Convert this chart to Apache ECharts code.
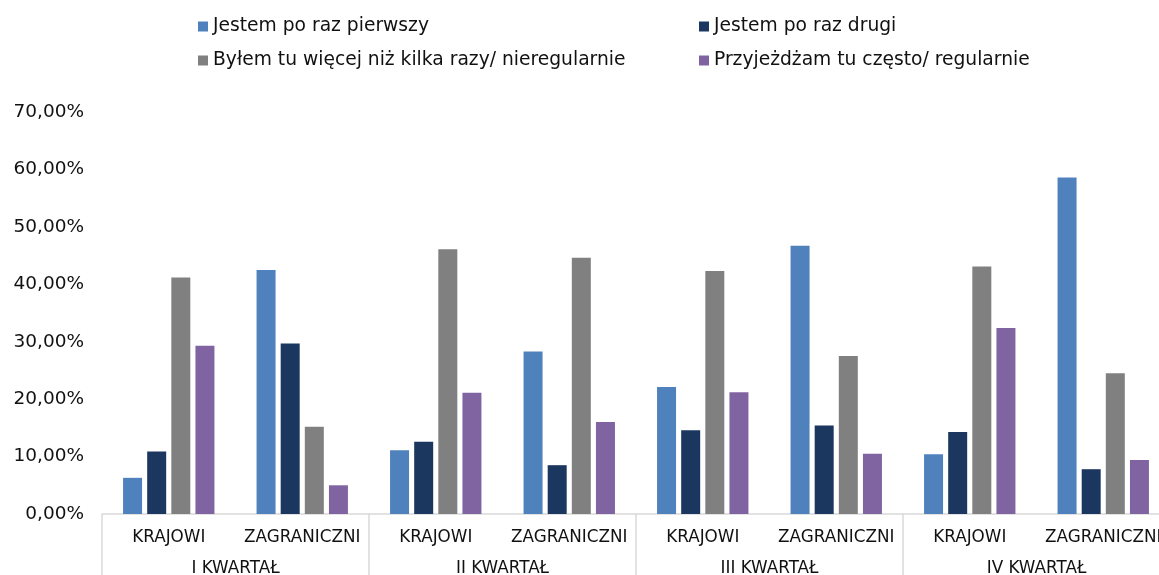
<!DOCTYPE html>
<html>
<head>
<meta charset="utf-8">
<script src="https://cdn.jsdelivr.net/npm/echarts@6/dist/echarts.min.js"></script>
<style>
  html, body { margin: 0; padding: 0; background: #ffffff; }
  #chart { width: 1159px; height: 575px; }
</style>
</head>
<body>
<div id="chart"></div>
<script>
// Visitor types per quarter, domestic vs. foreign (shares in %)
const groups = ['KRAJOWI', 'ZAGRANICZNI', 'KRAJOWI', 'ZAGRANICZNI', 'KRAJOWI', 'ZAGRANICZNI', 'KRAJOWI', 'ZAGRANICZNI'];
const quarters = ['I KWARTAŁ', 'II KWARTAŁ', 'III KWARTAŁ', 'IV KWARTAŁ'];
const seriesNames = [
  'Jestem po raz pierwszy',
  'Jestem po raz drugi',
  'Byłem tu więcej niż kilka razy/ nieregularnie',
  'Przyjeżdżam tu często/ regularnie'
];
const firstTime  = [6.3, 42.5, 11.1, 28.3, 22.1, 46.7, 10.4, 58.6];
const secondTime = [10.9, 29.7, 12.6, 8.5, 14.6, 15.4, 14.3, 7.8];
const severalTimes = [41.2, 15.2, 46.1, 44.6, 42.3, 27.5, 43.1, 24.5];
const regularly  = [29.3, 5.0, 21.1, 16.0, 21.2, 10.5, 32.4, 9.4];
const yTicks = { min: 0, max: 70, step: 10 };

const colors = ['#4F81BD', '#1B365F', '#808080', '#8064A2'];
const values = [firstTime, secondTime, severalTimes, regularly];
const font = "'DejaVu Sans', sans-serif";

const fmtPct = v => v.toFixed(2).replace('.', ',') + '%';

// one legend block per entry so that the entries sit in two fixed columns
const legendPos = [
  { left: 198, top: 17 },
  { left: 699, top: 17 },
  { left: 198, top: 51 },
  { left: 699, top: 51 }
];
const legends = seriesNames.map((name, i) => ({
  data: [name],
  left: legendPos[i].left,
  top: legendPos[i].top,
  itemWidth: 10,
  itemHeight: 10,
  itemGap: 0,
  padding: 0,
  icon: 'rect',
  textStyle: { fontFamily: font, fontSize: 18.7, color: '#111', padding: [0, 0, 0, 0] }
}));

const chart = echarts.init(document.getElementById('chart'), null, { renderer: 'canvas' });
chart.setOption({
  animation: false,
  color: colors,
  legend: legends,
  grid: { left: 102, top: 112, width: 1068, height: 402, containLabel: false, outerBoundsMode: 'none' },
  xAxis: [
    {
      type: 'category',
      data: groups,
      position: 'bottom',
      axisLine: { show: true, lineStyle: { color: '#d9d9d9', width: 1.5 } },
      axisTick: { show: false },
      axisLabel: { interval: 0, fontFamily: font, fontSize: 16.8, color: '#111', margin: 15 }
    },
    {
      type: 'category',
      data: quarters,
      position: 'bottom',
      axisLine: { show: false },
      axisTick: { show: true, length: 64, lineStyle: { color: '#d9d9d9', width: 1.5 } },
      axisLabel: { interval: 0, fontFamily: font, fontSize: 16.8, color: '#111', margin: 46 }
    }
  ],
  yAxis: {
    type: 'value',
    min: yTicks.min,
    max: yTicks.max,
    interval: yTicks.step,
    axisLine: { show: false },
    axisTick: { show: false },
    splitLine: { show: false },
    axisLabel: { fontFamily: font, fontSize: 18.5, color: '#111', margin: 18, formatter: v => fmtPct(v) }
  },
  series: seriesNames.map((name, i) => ({
    name,
    type: 'bar',
    xAxisIndex: 0,
    data: values[i],
    barWidth: 19,
    barGap: '27%',
    itemStyle: { color: colors[i] }
  }))
});
</script>
</body>
</html>
